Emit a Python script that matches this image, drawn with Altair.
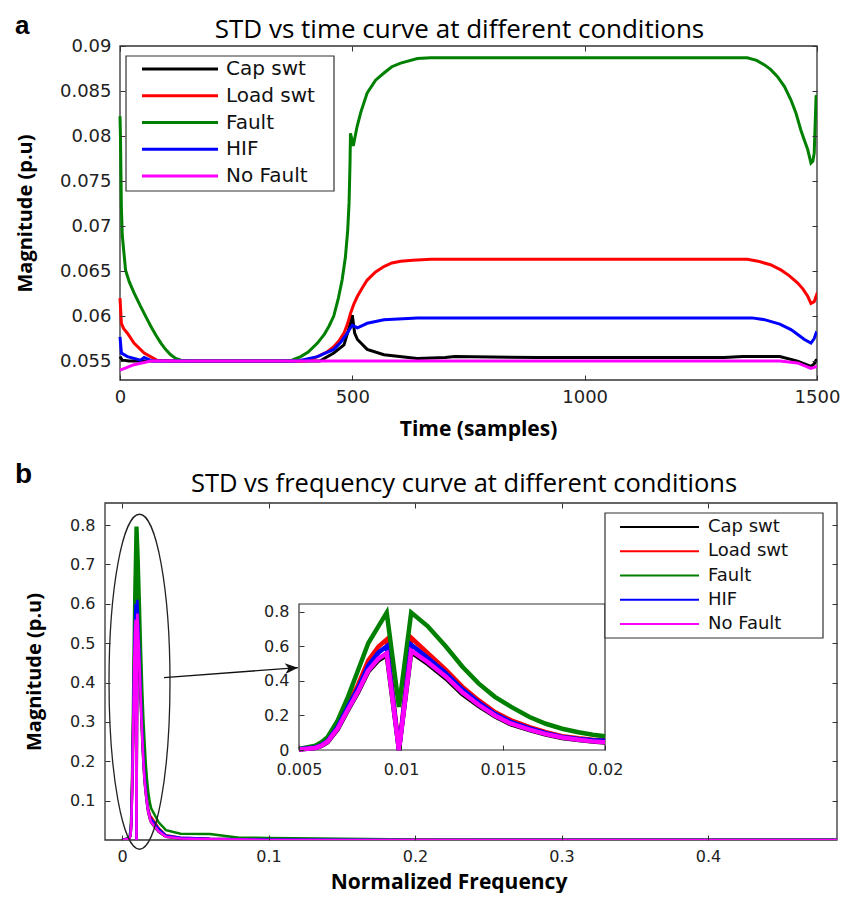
import altair as alt
import pandas as pd

SERIES = ["Cap swt", "Load swt", "Fault", "HIF", "No Fault"]
COLORS = ["#000000", "#ff0000", "#008000", "#0000ff", "#ff00ff"]

# ---------------- panel a : STD vs time ----------------
cap_t = [0, 5, 20, 430, 460, 482, 496, 500, 505, 511, 532, 568, 640, 700, 720, 900, 1100, 1300, 1340, 1420, 1458, 1487, 1494, 1498, 1500]
cap_v = [0.0555, 0.0551, 0.0550, 0.0550, 0.0559, 0.0568, 0.0592, 0.0601, 0.0581, 0.0574, 0.0563, 0.0557, 0.0553, 0.0554, 0.0555, 0.0554, 0.0554, 0.0554, 0.0555, 0.0555, 0.0550, 0.0544, 0.0547, 0.0551, 0.0551]

load_t = [0, 3, 8, 16, 30, 52, 80, 110, 400, 425, 445, 460, 472, 482, 490, 496, 503, 511, 520, 532, 550, 568, 585, 604, 630, 669, 1350, 1373, 1400, 1423, 1440, 1458, 1470, 1480, 1487, 1494, 1498, 1500]
load_v = [0.0620, 0.0592, 0.0586, 0.0581, 0.0570, 0.0559, 0.0551, 0.0550, 0.0550, 0.0555, 0.0560, 0.0566, 0.0573, 0.0581, 0.0592, 0.0603, 0.0613, 0.0622, 0.0630, 0.0640, 0.0649, 0.0655, 0.0659, 0.0661, 0.0662, 0.0663, 0.0663, 0.0661, 0.0657, 0.0651, 0.0645, 0.0637, 0.0630, 0.0622, 0.0614, 0.0616, 0.0622, 0.0618]

fault_t = [0, 1, 3, 5, 12, 20, 30, 44, 55, 66, 77, 88, 98, 109, 120, 131, 160, 353, 370, 389, 405, 425, 440, 450, 460, 470, 478, 485, 490, 493, 495, 496, 502, 510, 518, 532, 550, 568, 585, 604, 640, 669,
           1350, 1370, 1387, 1400, 1415, 1430, 1444, 1455, 1465, 1473, 1480, 1487, 1491, 1494, 1498, 1500]
fault_v = [0.0822, 0.0800, 0.0720, 0.0689, 0.0651, 0.0638, 0.0626, 0.0611, 0.0600, 0.0589, 0.0579, 0.0570, 0.0563, 0.0557, 0.0553, 0.0551, 0.0550, 0.0550, 0.0551, 0.0555, 0.0560, 0.0570, 0.0580, 0.0589, 0.0600, 0.0620, 0.0640, 0.0665, 0.0695, 0.0726, 0.0770, 0.0803, 0.0789, 0.0810, 0.0826, 0.0848, 0.0862, 0.0870, 0.0877, 0.0881, 0.0886, 0.0887,
           0.0887, 0.0884, 0.0879, 0.0874, 0.0866, 0.0855, 0.0840, 0.0825, 0.0807, 0.0795, 0.0785, 0.0770, 0.0772, 0.0781, 0.0844, 0.0845]

hif_t = [0, 3, 16, 30, 44, 52, 70, 380, 425, 460, 475, 489, 496, 500, 511, 532, 568, 640, 1360, 1387, 1420, 1444, 1460, 1473, 1487, 1494, 1498, 1500]
hif_v = [0.0577, 0.0559, 0.0555, 0.0553, 0.0551, 0.0554, 0.0550, 0.0550, 0.0555, 0.0563, 0.0571, 0.0581, 0.0587, 0.0590, 0.0587, 0.0592, 0.0596, 0.0598, 0.0598, 0.0596, 0.0591, 0.0585, 0.0579, 0.0574, 0.0570, 0.0575, 0.0581, 0.0580]

nof_t = [0, 10, 30, 66, 100, 1420, 1458, 1487, 1494, 1500]
nof_v = [0.0540, 0.0542, 0.0546, 0.0550, 0.0550, 0.0550, 0.0548, 0.0542, 0.0543, 0.0544]

TIME_XTICKS = [0, 500, 1000, 1500]
TIME_YTICKS = [0.055, 0.06, 0.065, 0.07, 0.075, 0.08, 0.085, 0.09]
TIME_XDOM = [0, 1500]
TIME_YDOM = [0.0529, 0.09]

# ---------------- panel b : STD vs normalized frequency ----------------
freq_x = [0, 0.005, 0.0058, 0.0061, 0.0064, 0.0069, 0.0074, 0.0079, 0.0084, 0.0089, 0.0093, 0.0099,
          0.0105, 0.0113, 0.0122, 0.0130, 0.0138, 0.0146, 0.0154, 0.0163, 0.0171, 0.0179, 0.0187,
          0.0194, 0.0200, 0.025, 0.030, 0.040, 0.060, 0.080, 0.100, 0.150, 0.200, 0.300, 0.400, 0.488]
cap_f = [0, 0.003, 0.011, 0.023, 0.045, 0.120, 0.230, 0.335, 0.455, 0.520, 0.550, 0.000,
         0.565, 0.500, 0.415, 0.325, 0.255, 0.195, 0.148, 0.115, 0.090, 0.070, 0.058,
         0.049, 0.044, 0.021, 0.008, 0.004, 0.002, 0.001, 0, 0, 0, 0, 0, 0]
load_f = [0, 0.004, 0.015, 0.030, 0.055, 0.140, 0.260, 0.380, 0.520, 0.600, 0.640, 0.000,
          0.650, 0.562, 0.464, 0.367, 0.289, 0.220, 0.172, 0.133, 0.103, 0.080, 0.068,
          0.060, 0.058, 0.030, 0.012, 0.006, 0.003, 0.002, 0.001, 0.001, 0.0005, 0, 0, 0]
fault_f = [0, 0.006, 0.025, 0.045, 0.074, 0.172, 0.308, 0.464, 0.620, 0.718, 0.796, 0.250,
           0.796, 0.718, 0.600, 0.484, 0.386, 0.308, 0.250, 0.191, 0.152, 0.123, 0.103,
           0.088, 0.080, 0.045, 0.025, 0.016, 0.015, 0.006, 0.005, 0.003, 0.001, 0.001, 0.001, 0.001]
hif_f = [0, 0.004, 0.014, 0.028, 0.052, 0.135, 0.250, 0.360, 0.490, 0.565, 0.600, 0.000,
         0.610, 0.535, 0.445, 0.352, 0.276, 0.210, 0.162, 0.125, 0.097, 0.076, 0.064,
         0.056, 0.053, 0.028, 0.011, 0.006, 0.003, 0.002, 0.001, 0.0005, 0, 0, 0, 0]
nof_f = [0, 0.003, 0.012, 0.025, 0.048, 0.125, 0.235, 0.340, 0.460, 0.530, 0.560, 0.000,
         0.575, 0.510, 0.425, 0.335, 0.262, 0.200, 0.152, 0.118, 0.092, 0.072, 0.060,
         0.050, 0.045, 0.022, 0.008, 0.004, 0.002, 0.001, 0, 0, 0, 0, 0, 0]

FREQ_XTICKS = [0, 0.1, 0.2, 0.3, 0.4]
FREQ_YTICKS = [0.1, 0.2, 0.3, 0.4, 0.5, 0.6, 0.7, 0.8]
FREQ_XDOM = [-0.0116, 0.488]
FREQ_YDOM = [0, 0.856]

INSET_XTICKS = [0.005, 0.01, 0.015, 0.02]
INSET_YTICKS = [0, 0.2, 0.4, 0.6, 0.8]
INSET_XDOM = [0.005, 0.02]
INSET_YDOM = [0, 0.846]

# annotation geometry (data units of panel b)
ELL_CENTER = (0.01195, 0.402)
ARROW_X = [0.0287, 0.1201]
ARROW_Y = [0.4125, 0.4378]

# ---------------- layout constants (pixels) ----------------
W1, H1 = 712, 334          # top view (plot frame starts 15 px in from view origin)
TOP_XRANGE = [15, 712]
W2, H2 = 732, 337
INSET_XRANGE = [194, 500]
INSET_YRANGE = [247, 101]
# legend boxes: box x0,x1,y0,y1 ; row y first,last ; symbol x0,x1 ; label x ; font ; stroke
TOP_LEG = dict(box=(21, 229, 10, 145), rows=(23, 130), sym=(37, 113), lab=121, fs=20, sw=3)
BOT_LEG = dict(box=(500, 718, 10, 135), rows=(24, 121), sym=(515, 594), lab=603, fs=18, sw=2.2)


def long_df(xs_by_series):
    rows = []
    for s in SERIES:
        xs, ys = xs_by_series[s]
        for a, b in zip(xs, ys):
            rows.append({"series": s, "x": a, "y": b})
    return pd.DataFrame(rows)


df_time = long_df({"Cap swt": (cap_t, cap_v), "Load swt": (load_t, load_v),
                   "Fault": (fault_t, fault_v), "HIF": (hif_t, hif_v),
                   "No Fault": (nof_t, nof_v)})
df_freq = long_df({"Cap swt": (freq_x, cap_f), "Load swt": (freq_x, load_f),
                   "Fault": (freq_x, fault_f), "HIF": (freq_x, hif_f),
                   "No Fault": (freq_x, nof_f)})
df_series = pd.DataFrame({"series": SERIES})

COLOR_SCALE = alt.Scale(domain=SERIES, range=COLORS)


def axis(orient, values, labels=True, offset=-5, size=18, pad=9, **kw):
    return alt.Axis(orient=orient, values=values, labels=labels, offset=offset,
                    tickSize=5, tickColor="#333", tickWidth=1, domain=False,
                    grid=False, labelFlush=False, labelOverlap=False, format="~r",
                    labelFont="DejaVu Sans", labelFontSize=size, labelColor="#222",
                    labelPadding=pad, zindex=1, **kw)


def color():
    return alt.Color("series:N", scale=COLOR_SCALE, legend=None)


def text_layer(txt, x, y, font, size, weight, align="left"):
    return alt.Chart(pd.DataFrame({"t": [txt]})).mark_text(
        align=align, baseline="alphabetic", font=font, fontSize=size,
        fontWeight=weight, color="black"
    ).encode(text="t:N", x=alt.value(x), y=alt.value(y))


def frame(xdom, ydom, xs, ys):
    return alt.Chart(pd.DataFrame({"x": [xdom[0]], "x2": [xdom[1]],
                                   "y": [ydom[0]], "y2": [ydom[1]]})).mark_rect(
        fill="white", fillOpacity=0, stroke="#333", strokeWidth=1.3
    ).encode(x=alt.X("x:Q", scale=xs, axis=None), x2="x2:Q",
             y=alt.Y("y:Q", scale=ys, axis=None), y2="y2:Q")


def legend_layers(spec):
    bx0, bx1, by0, by1 = spec["box"]
    row_scale = alt.Scale(type="point", domain=SERIES, range=list(spec["rows"]), padding=0)
    box = alt.Chart(pd.DataFrame({"k": [0]})).mark_rect(
        fill="white", stroke="#333", strokeWidth=1.2
    ).encode(x=alt.value(bx0), x2=alt.value(bx1), y=alt.value(by0), y2=alt.value(by1))
    syms = alt.Chart(df_series).mark_rule(strokeWidth=spec["sw"]).encode(
        x=alt.value(spec["sym"][0]), x2=alt.value(spec["sym"][1]),
        y=alt.Y("series:N", scale=row_scale, axis=None), color=color())
    labs = alt.Chart(df_series).mark_text(
        align="left", baseline="middle", font="DejaVu Sans", fontSize=spec["fs"], color="#111"
    ).encode(x=alt.value(spec["lab"]), y=alt.Y("series:N", scale=row_scale, axis=None),
             text="series:N")
    return [box, syms, labs]


# ---------------- top chart ----------------
xs_t = alt.Scale(domain=TIME_XDOM, range=TOP_XRANGE, nice=False, zero=False)
ys_t = alt.Scale(domain=TIME_YDOM, nice=False, zero=False)

top_lines = alt.Chart(df_time).mark_line(strokeWidth=3, clip=True).encode(
    x=alt.X("x:Q", scale=xs_t,
            axis=axis("bottom", TIME_XTICKS, title="Time (samples)", pad=8,
                      minExtent=31, maxExtent=31, titlePadding=12, titleX=373)),
    y=alt.Y("y:Q", scale=ys_t,
            axis=axis("left", TIME_YTICKS, title="Magnitude (p.u)", pad=9,
                      offset=-TOP_XRANGE[0] - 5,
                      minExtent=66, maxExtent=66, titlePadding=24, titleFontSize=20)),
    color=color(),
)
top_ticks = alt.Chart(pd.DataFrame({"x": [TIME_XDOM[0]], "y": [TIME_YDOM[0]]})).mark_point(opacity=0).encode(
    x=alt.X("x:Q", scale=xs_t, axis=axis("top", TIME_XTICKS, labels=False, title=None)),
    y=alt.Y("y:Q", scale=ys_t, axis=axis("right", TIME_YTICKS, labels=False, title=None)),
)
top = alt.layer(
    frame(TIME_XDOM, TIME_YDOM, xs_t, ys_t),
    top_lines, top_ticks,
    *legend_layers(TOP_LEG),
    text_layer("STD vs time curve at different conditions", 354.5, -8, "Open Sans", 26, "normal", "center"),
    text_layer("a", -90, -12, "Liberation Sans", 26, "bold"),
).resolve_scale(y="independent").resolve_axis(x="independent", y="independent").properties(width=W1, height=H1)

# ---------------- bottom chart ----------------
xs_f = alt.Scale(domain=FREQ_XDOM, nice=False, zero=False)
ys_f = alt.Scale(domain=FREQ_YDOM, nice=False, zero=False)
xs_i = alt.Scale(domain=INSET_XDOM, range=INSET_XRANGE, nice=False, zero=False)
ys_i = alt.Scale(domain=INSET_YDOM, range=INSET_YRANGE, nice=False, zero=False)

bot_lines = alt.Chart(df_freq).mark_line(strokeWidth=2.5, clip=True).encode(
    x=alt.X("x:Q", scale=xs_f,
            axis=axis("bottom", FREQ_XTICKS, title="Normalized Frequency", size=16, pad=8,
                      minExtent=31, maxExtent=31, titlePadding=5, titleX=343.5)),
    y=alt.Y("y:Q", scale=ys_f,
            axis=axis("left", FREQ_YTICKS, title="Magnitude (p.u)", size=16, pad=10,
                      minExtent=40, maxExtent=40, titlePadding=26, titleFontSize=20)),
    color=color(),
)
bot_ticks = alt.Chart(pd.DataFrame({"x": [FREQ_XDOM[1]], "y": [FREQ_YDOM[0]]})).mark_point(opacity=0).encode(
    x=alt.X("x:Q", scale=xs_f, axis=axis("top", FREQ_XTICKS, labels=False, title=None)),
    y=alt.Y("y:Q", scale=ys_f, axis=axis("right", FREQ_YTICKS, labels=False, title=None)),
)

ell_a = 0.182
ell_k = round(ell_a * 0.5523, 4)
ELL_PATH = (f"M0,-1 C{ell_k},-1 {ell_a},-0.5523 {ell_a},0 C{ell_a},0.5523 {ell_k},1 0,1 "
            f"C{-ell_k},1 {-ell_a},0.5523 {-ell_a},0 C{-ell_a},-0.5523 {-ell_k},-1 0,-1 Z")
ellipse = alt.Chart(pd.DataFrame({"x": [ELL_CENTER[0]], "y": [ELL_CENTER[1]]})).mark_point(
    shape=ELL_PATH, size=335 ** 2, filled=False, stroke="#222", strokeWidth=1.3, opacity=1
).encode(x=alt.X("x:Q", scale=xs_f, axis=None), y=alt.Y("y:Q", scale=ys_f, axis=None))

arrow_line = alt.Chart(pd.DataFrame({"x": ARROW_X, "y": ARROW_Y})).mark_line(
    color="#111", strokeWidth=1.3
).encode(x=alt.X("x:Q", scale=xs_f, axis=None), y=alt.Y("y:Q", scale=ys_f, axis=None))
arrow_head = alt.Chart(pd.DataFrame({"x": ARROW_X[1:], "y": ARROW_Y[1:]})).mark_point(
    shape="M0,0 L-1,-0.42 L-0.72,0 L-1,0.42 Z", size=676, filled=True, color="#111",
    opacity=1, angle=355.7
).encode(x=alt.X("x:Q", scale=xs_f, axis=None), y=alt.Y("y:Q", scale=ys_f, axis=None))

inset_xaxis = axis("bottom", INSET_XTICKS, offset=-(H2 - INSET_YRANGE[0]) - 5, size=16, pad=11, title=None)
inset_yaxis = axis("left", INSET_YTICKS, offset=-INSET_XRANGE[0] - 5, size=16, pad=10, title=None)

inset_box = alt.Chart(pd.DataFrame({"x": [INSET_XDOM[0]], "x2": [INSET_XDOM[1]],
                                    "y": [INSET_YDOM[0]], "y2": [INSET_YDOM[1]]})).mark_rect(
    fill="white", stroke="#333", strokeWidth=1.2
).encode(
    x=alt.X("x:Q", scale=xs_i, axis=inset_xaxis),
    x2="x2:Q",
    y=alt.Y("y:Q", scale=ys_i, axis=inset_yaxis),
    y2="y2:Q",
)
inset_lines = alt.Chart(df_freq).transform_filter(
    (alt.datum.x >= INSET_XDOM[0]) & (alt.datum.x <= INSET_XDOM[1])
).mark_line(strokeWidth=4.5).encode(
    x=alt.X("x:Q", scale=xs_i, axis=None),
    y=alt.Y("y:Q", scale=ys_i, axis=None),
    color=color(),
)

bottom = alt.layer(
    frame(FREQ_XDOM, FREQ_YDOM, xs_f, ys_f),
    bot_lines, bot_ticks, ellipse, arrow_line, arrow_head,
    inset_box, inset_lines,
    *legend_layers(BOT_LEG),
    text_layer("STD vs frequency curve at different conditions", 359, -11, "Open Sans", 25.5, "normal", "center"),
    text_layer("b", -90, -20, "Liberation Sans", 28, "bold"),
).resolve_scale(x="independent", y="independent").properties(width=W2, height=H2)

chart = alt.concat(top, bottom, columns=1, spacing=20, align="none").properties(
    padding={"left": 6, "top": 4, "right": 4, "bottom": 0}
).configure_view(stroke="transparent").configure_axis(
    titleFont="Open Sans", titleFontWeight="bold", titleFontSize=21, titleColor="black"
)

chart.save("out.html", embed_options={"renderer": "svg", "actions": False})
